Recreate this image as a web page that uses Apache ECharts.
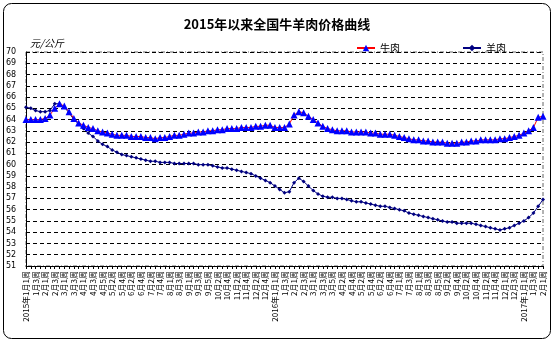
<!DOCTYPE html>
<html>
<head>
<meta charset="utf-8">
<script src="https://cdn.jsdelivr.net/npm/echarts@6/dist/echarts.min.js"></script>
<style>
  html, body { margin: 0; padding: 0; background: #fff; }
  #chart { width: 554px; height: 342px; }
</style>
</head>
<body>
<div id="chart"></div>
<script>
// Weekly categories, Jan 2015 week 1 through Feb 2017 week 1
const weeks = [
  '2015年1月1周', '1月2周', '1月3周', '1月4周',
  '2月1周', '2月2周', '2月3周', '2月4周',
  '3月1周', '3月2周', '3月3周', '3月4周',
  '4月1周', '4月2周', '4月3周', '4月4周', '4月5周',
  '5月1周', '5月2周', '5月3周', '5月4周',
  '6月1周', '6月2周', '6月3周', '6月4周',
  '7月1周', '7月2周', '7月3周', '7月4周', '7月5周',
  '8月1周', '8月2周', '8月3周', '8月4周',
  '9月1周', '9月2周', '9月3周', '9月4周', '9月5周',
  '10月1周', '10月2周', '10月3周', '10月4周',
  '11月1周', '11月2周', '11月3周', '11月4周',
  '12月1周', '12月2周', '12月3周', '12月4周', '12月5周',
  '2016年1月1周', '1月2周', '1月3周', '1月4周',
  '2月1周', '2月2周', '2月3周', '2月4周',
  '3月1周', '3月2周', '3月3周', '3月4周', '3月5周',
  '4月1周', '4月2周', '4月3周', '4月4周',
  '5月1周', '5月2周', '5月3周', '5月4周',
  '6月1周', '6月2周', '6月3周', '6月4周', '6月5周',
  '7月1周', '7月2周', '7月3周', '7月4周',
  '8月1周', '8月2周', '8月3周', '8月4周', '8月5周',
  '9月1周', '9月2周', '9月3周', '9月4周',
  '10月1周', '10月2周', '10月3周', '10月4周',
  '11月1周', '11月2周', '11月3周', '11月4周', '11月5周',
  '12月1周', '12月2周', '12月3周', '12月4周',
  '2017年1月1周', '1月2周', '1月3周', '1月4周',
  '2月1周'
];

// Beef price, yuan/kg
const beef = [
  64.0, 64.0, 64.0, 64.0, 64.1, 64.4, 65.0, 65.4, 65.2, 64.7,
  64.1, 63.7, 63.5, 63.3, 63.2, 63.0, 62.9, 62.8, 62.7, 62.6,
  62.6, 62.6, 62.5, 62.5, 62.5, 62.4, 62.4, 62.3, 62.4, 62.4,
  62.5, 62.6, 62.6, 62.7, 62.8, 62.8, 62.9, 62.9, 63.0, 63.0,
  63.1, 63.1, 63.2, 63.2, 63.2, 63.3, 63.3, 63.3, 63.4, 63.4,
  63.5, 63.5, 63.3, 63.3, 63.3, 63.6, 64.4, 64.7, 64.6, 64.3,
  64.0, 63.7, 63.4, 63.2, 63.1, 63.0, 63.0, 63.0, 62.9, 62.9,
  62.9, 62.9, 62.8, 62.8, 62.7, 62.7, 62.7, 62.6, 62.5, 62.4,
  62.3, 62.2, 62.2, 62.1, 62.1, 62.0, 62.0, 62.0, 61.9, 61.9,
  61.9, 62.0, 62.0, 62.1, 62.1, 62.2, 62.2, 62.2, 62.2, 62.3,
  62.3, 62.4, 62.5, 62.6, 62.8, 63.0, 63.3, 64.2, 64.3
];

// Mutton price, yuan/kg
const mutton = [
  65.1, 65.0, 64.8, 64.7, 64.7, 64.8, 65.4, 65.4, 65.1, 64.6,
  64.0, 63.6, 63.2, 62.8, 62.5, 62.1, 61.8, 61.6, 61.3, 61.1,
  60.9, 60.8, 60.7, 60.6, 60.5, 60.4, 60.3, 60.3, 60.2, 60.2,
  60.2, 60.1, 60.1, 60.1, 60.1, 60.1, 60.0, 60.0, 60.0, 59.9,
  59.8, 59.7, 59.7, 59.6, 59.5, 59.4, 59.3, 59.2, 59.0, 58.8,
  58.6, 58.4, 58.1, 57.8, 57.5, 57.6, 58.4, 58.8, 58.5, 58.1,
  57.7, 57.4, 57.2, 57.1, 57.1, 57.0, 57.0, 56.9, 56.8, 56.7,
  56.7, 56.6, 56.5, 56.4, 56.3, 56.3, 56.2, 56.1, 56.0, 55.9,
  55.7, 55.6, 55.5, 55.4, 55.3, 55.2, 55.1, 55.0, 54.9, 54.9,
  54.8, 54.8, 54.8, 54.8, 54.7, 54.6, 54.5, 54.4, 54.3, 54.2,
  54.3, 54.4, 54.6, 54.8, 55.0, 55.3, 55.7, 56.3, 56.9
];

const seriesNames = ['牛肉', '羊肉'];
const cjk = '"Noto Sans CJK SC", "Noto Sans", sans-serif';

const chart = echarts.init(document.getElementById('chart'), null, { renderer: 'canvas' });

chart.setOption({
  animation: false,
  backgroundColor: '#ffffff',
  title: {
    text: '2015年以来全国牛羊肉价格曲线',
    left: 'center',
    top: 13,
    textStyle: { fontFamily: cjk, fontSize: 13, fontWeight: 'bold', color: '#000' }
  },
  legend: {
    data: seriesNames,
    left: 351,
    top: 38,
    itemWidth: 18,
    itemHeight: 8,
    itemGap: 62,
    textStyle: { fontFamily: cjk, fontSize: 10, color: '#000' }
  },
  graphic: [
    {
      type: 'rect',
      shape: { x: 3.5, y: 3.5, width: 547, height: 335, r: 8 },
      style: { fill: 'none', stroke: '#000', lineWidth: 1 },
      silent: true
    },
    {
      type: 'text',
      left: 30,
      top: 38,
      style: {
        text: '元/公斤',
        font: 'italic 10px ' + cjk,
        fill: '#000'
      }
    }
  ],
  grid: {
    left: 26,
    right: 11,
    top: 52,
    bottom: 76,
    show: true,
    borderColor: '#666',
    borderWidth: 1,
    borderType: [4, 2, 1, 2]
  },
  xAxis: {
    type: 'category',
    data: weeks,
    boundaryGap: false,
    axisLine: { lineStyle: { color: '#000', width: 1 } },
    axisTick: { interval: 0, length: 3, lineStyle: { color: '#000' } },
    axisLabel: {
      interval: 1,
      rotate: 90,
      fontSize: 8,
      margin: 5,
      color: '#000',
      fontFamily: cjk
    },
    splitLine: { show: false }
  },
  yAxis: {
    type: 'value',
    min: 51,
    max: 70,
    interval: 1,
    axisLine: { show: true, lineStyle: { color: '#000', width: 1 } },
    axisTick: { show: false },
    axisLabel: {
      fontSize: 8,
      color: '#000',
      align: 'left',
      margin: 20,
      fontFamily: 'DejaVu Sans, sans-serif'
    },
    splitLine: { show: true, lineStyle: { color: '#000', type: [4, 3], width: 1 } }
  },
  series: [
    {
      name: seriesNames[1],
      type: 'line',
      data: mutton,
      symbol: 'diamond',
      symbolSize: 4,
      showAllSymbol: true,
      lineStyle: { color: '#000080', width: 1 },
      itemStyle: { color: '#000080' },
      z: 2
    },
    {
      name: seriesNames[0],
      type: 'line',
      data: beef,
      symbol: 'triangle',
      symbolSize: 7,
      showAllSymbol: true,
      lineStyle: { color: '#ff0000', width: 1 },
      itemStyle: { color: '#0000ff' },
      z: 3
    }
  ]
});
</script>
</body>
</html>
